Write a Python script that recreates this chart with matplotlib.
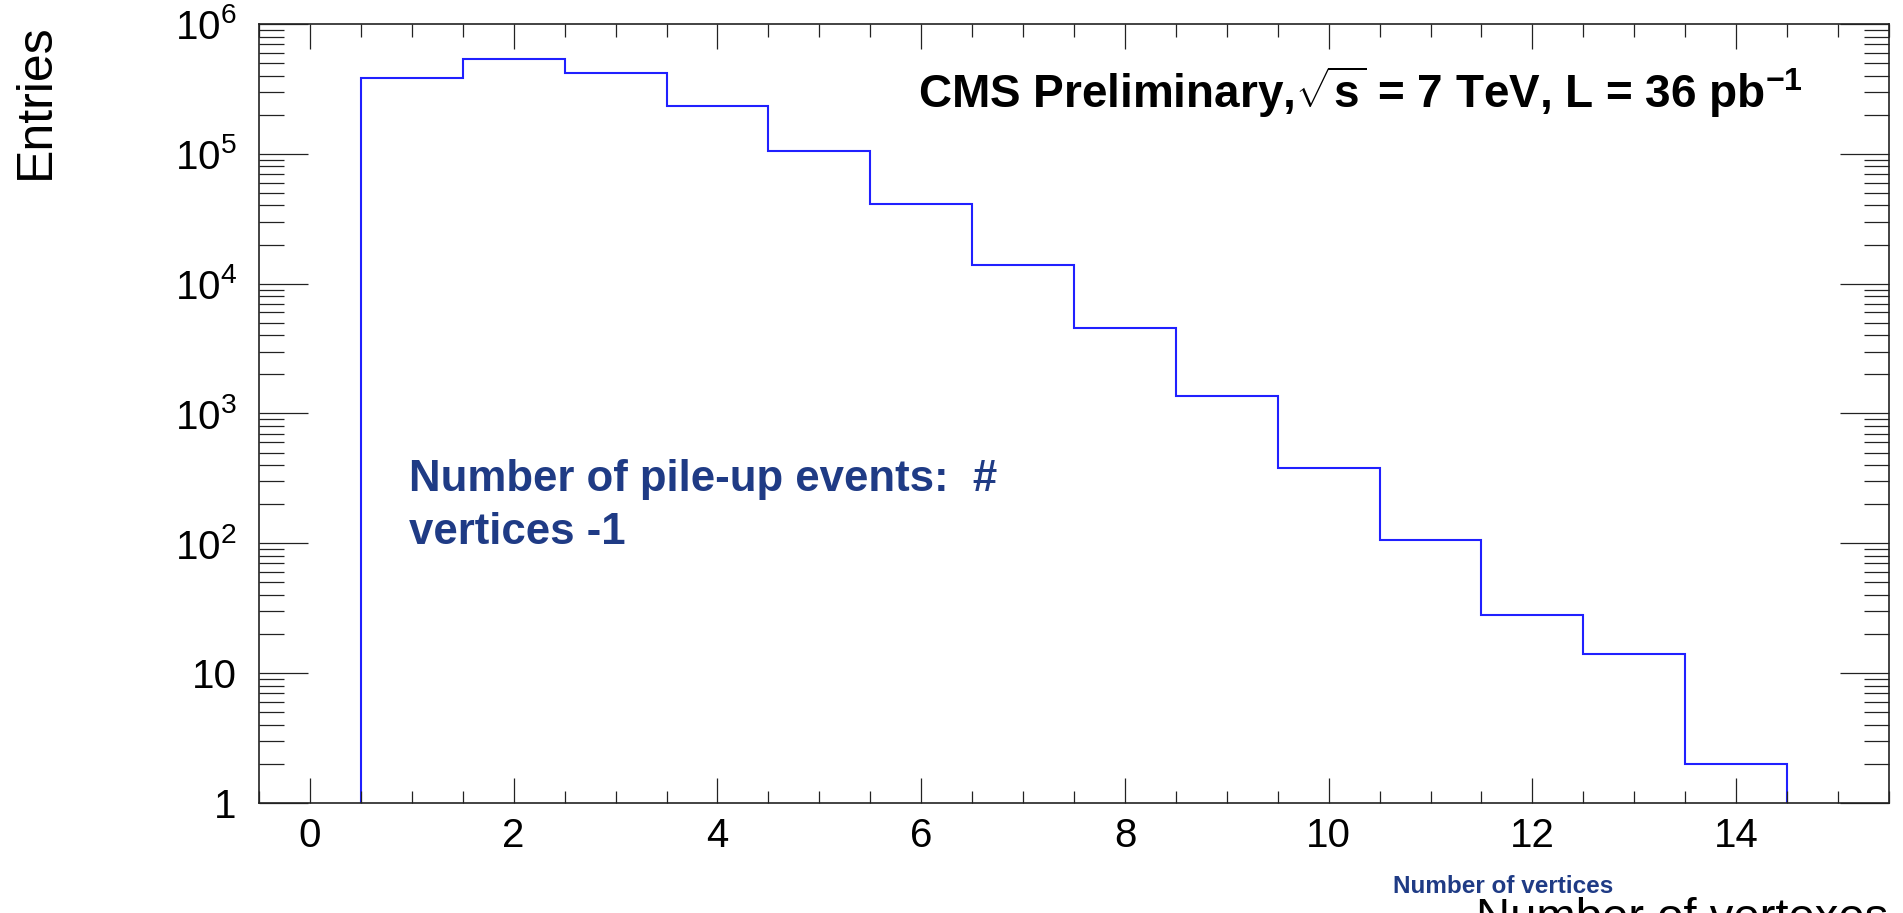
import numpy as np
import matplotlib
matplotlib.use("Agg")
import matplotlib.pyplot as plt
from matplotlib.ticker import FixedLocator, FixedFormatter, MultipleLocator, LogLocator, NullFormatter

# histogram contents, one bin per number of vertices
n_vertices = np.arange(1, 15)
entries = [382000, 538000, 422000, 234000, 105000, 41100, 14000,
           4560, 1360, 380, 107, 28, 14, 2]

x_ticks = [0, 2, 4, 6, 8, 10, 12, 14]
y_ticks = [1, 10, 1e2, 1e3, 1e4, 1e5, 1e6]
y_labels = ["1", "10", r"$\mathregular{10^{2}}$", r"$\mathregular{10^{3}}$",
            r"$\mathregular{10^{4}}$", r"$\mathregular{10^{5}}$", r"$\mathregular{10^{6}}$"]

plt.rcParams["font.family"] = ["Liberation Sans", "DejaVu Sans"]
plt.rcParams["mathtext.fontset"] = "custom"
plt.rcParams["mathtext.rm"] = "Liberation Sans"
plt.rcParams["mathtext.bf"] = "Liberation Sans:bold"
plt.rcParams["mathtext.it"] = "Liberation Sans:bold"

navy = "#1f3b85"

W, H = 1903, 913
fig = plt.figure(figsize=(W / 100, H / 100), dpi=100)
ax = fig.add_axes([259 / W, 1 - 803 / H, (1889 - 259) / W, (803 - 24) / H])

edges = np.append(n_vertices - 0.5, n_vertices[-1] + 0.5)
ax.stairs(entries, edges, baseline=1, color="#2020ff", lw=1.5)

ax.set_yscale("log")
ax.set_xlim(-0.5, 15.5)
ax.set_ylim(1, 1e6)

ax.xaxis.set_major_locator(FixedLocator(x_ticks))
ax.xaxis.set_minor_locator(MultipleLocator(0.5))
ax.yaxis.set_major_locator(FixedLocator(y_ticks))
ax.yaxis.set_major_formatter(FixedFormatter(y_labels))
ax.yaxis.set_minor_locator(LogLocator(base=10, subs=np.arange(2, 10), numticks=20))
ax.yaxis.set_minor_formatter(NullFormatter())

ax.tick_params(which="both", direction="in", top=True, right=True,
               width=0.9, color="#222222", labelsize=29)
ax.tick_params(axis="x", which="major", length=18, pad=10)
ax.tick_params(axis="x", which="minor", length=9)
ax.tick_params(axis="y", which="major", length=35, pad=16)
ax.tick_params(axis="y", which="minor", length=18)
for s in ax.spines.values():
    s.set_linewidth(1.2)
    s.set_color("#222222")

fig.text(36 / W, 1 - 23 / H, "Entries", rotation=90, ha="center", va="top", fontsize=36)

fig.text(1803 / W, 1 - 108 / H,
         r"CMS Preliminary,$\sqrt{\mathbf{s}}$ = 7 TeV, L = 36 pb$^{\mathbf{-1}}$",
         ha="right", va="baseline", fontsize=33, fontweight="bold")

fig.text(409 / W, 1 - 491 / H, "Number of pile-up events:  #", ha="left", va="baseline",
         fontsize=31.5, fontweight="bold", color=navy)
fig.text(409 / W, 1 - 544 / H, "vertices -1", ha="left", va="baseline",
         fontsize=31.5, fontweight="bold", color=navy)

fig.text(1393 / W, 1 - 893 / H, "Number of vertices", ha="left", va="baseline",
         fontsize=17.5, fontweight="bold", color=navy)

# axis title left over below the plot, cut by the bottom edge
fig.text(1888 / W, 1 - 897 / H, "Number of vertexes", ha="right", va="top", fontsize=34)

fig.savefig("out.png", dpi=100)
